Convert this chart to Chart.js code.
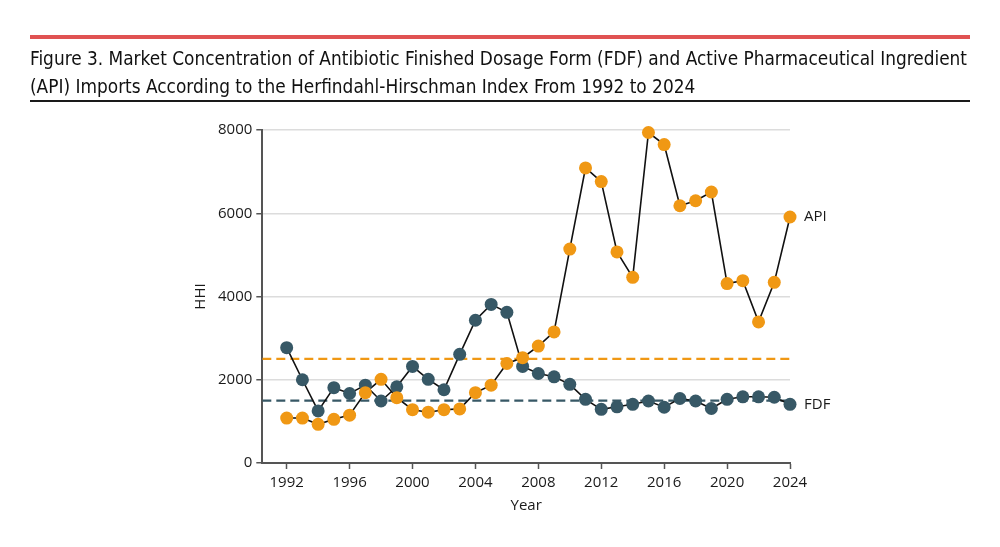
<!DOCTYPE html>
<html>
<head>
<meta charset="utf-8">
<script src="https://cdn.jsdelivr.net/npm/chart.js@4/dist/chart.umd.min.js"></script>
<style>
  body { margin: 0; background: #fff; }
  #wrap { position: relative; width: 1000px; height: 547px; overflow: hidden; }
  #chart { position: absolute; left: 0; top: 0; }
  .redbar { position: absolute; left: 30px; top: 35px; width: 940px; height: 4px; background: #e05252; }
  .rule { position: absolute; left: 30px; top: 100px; width: 940px; height: 2px; background: #1a1a1a; }
  .title { position: absolute; left: 30px; top: 44px; width: 960px; font-family: "Liberation Sans Narrow", "DejaVu Sans Condensed", sans-serif;
           font-size: 20px; line-height: 28px; color: #111; }
  .title div { white-space: nowrap; display: inline-block; }
</style>
</head>
<body>
<div id="wrap">
  <canvas id="chart" width="1000" height="547"></canvas>
  <div class="redbar"></div>
  <div class="title">
    <div id="t1">Figure 3. Market Concentration of Antibiotic Finished Dosage Form (FDF) and Active Pharmaceutical Ingredient</div><br>
    <div id="t2">(API) Imports According to the Herfindahl-Hirschman Index From 1992 to 2024</div>
  </div>
  <div class="rule"></div>
</div>
<script>
// data
let years = [1992,1993,1994,1995,1996,1997,1998,1999,2000,2001,2002,2003,2004,2005,2006,2007,
             2008,2009,2010,2011,2012,2013,2014,2015,2016,2017,2018,2019,2020,2021,2022,2023,2024];
let fdf_hhi = [2770,2000,1250,1810,1670,1870,1490,1830,2320,2010,1760,2610,3430,3810,3620,2320,
               2150,2070,1890,1530,1290,1350,1410,1490,1340,1550,1490,1310,1530,1590,1590,1580,1410];
let api_hhi = [1080,1080,930,1050,1150,1690,2010,1570,1280,1220,1280,1300,1690,1870,2390,2530,
               2810,3150,5140,7090,6760,5070,4460,7940,7650,6180,6300,6510,4310,4380,3390,4340,5910];
let x_ticks = [1992,1996,2000,2004,2008,2012,2016,2020,2024];
let y_ticks = [0,2000,4000,6000,8000];
let fdf_threshold = 1500;
let api_threshold = 2500;

// fit title lines to the width in the figure
let t1 = document.getElementById('t1');
let fs = 20 * 938 / t1.getBoundingClientRect().width;
document.querySelector('.title').style.fontSize = fs + 'px';

let orange = 'rgb(240,152,20)';
let slate = 'rgb(55,88,102)';
let x_min = 1990.45;

function pts(vals) {
    return years.map((y, i) => ({x: y, y: vals[i]}));
}
function hline(v) {
    return [{x: x_min, y: v}, {x: years[years.length - 1], y: v}];
}

// API / FDF labels next to the last point
let end_labels = {
    id: 'end_labels',
    afterDatasetsDraw(chart) {
        let ctx = chart.ctx;
        let xs = chart.scales.x, ys = chart.scales.y;
        let last = years.length - 1;
        ctx.save();
        ctx.font = '15px "Open Sans"';
        ctx.fillStyle = '#1a1a1a';
        ctx.textBaseline = 'middle';
        ctx.fillText('API', xs.getPixelForValue(years[last]) + 14, ys.getPixelForValue(api_hhi[last]));
        ctx.fillText('FDF', xs.getPixelForValue(years[last]) + 14, ys.getPixelForValue(fdf_hhi[last]));
        ctx.restore();
    }
};

let data = {
    datasets: [
        {label: 'API', data: pts(api_hhi), showLine: false, pointRadius: 6.5, pointHoverRadius: 6.5,
         backgroundColor: orange, borderWidth: 0, order: 1, clip: false},
        {label: 'FDF', data: pts(fdf_hhi), showLine: false, pointRadius: 6.5, pointHoverRadius: 6.5,
         backgroundColor: slate, borderWidth: 0, order: 2, clip: false},
        {label: 'API line', data: pts(api_hhi), showLine: true, pointRadius: 0, borderColor: '#111',
         borderWidth: 1.6, order: 3, clip: false},
        {label: 'FDF line', data: pts(fdf_hhi), showLine: true, pointRadius: 0, borderColor: '#111',
         borderWidth: 1.6, order: 4, clip: false},
        {label: 'API threshold', data: hline(api_threshold), showLine: true, pointRadius: 0,
         borderColor: orange, borderWidth: 2.2, borderDash: [9, 5], order: 5},
        {label: 'FDF threshold', data: hline(fdf_threshold), showLine: true, pointRadius: 0,
         borderColor: slate, borderWidth: 2.2, borderDash: [9, 5], order: 6}
    ]
};

let tick_font = {family: '"Open Sans"', size: 15};

let config = {
    type: 'scatter',
    data: data,
    options: {
        responsive: false,
        animation: false,
        layout: {padding: {left: 188, right: 210, top: 130, bottom: 28}},
        plugins: {legend: {display: false}, tooltip: {enabled: false}},
        scales: {
            x: {
                type: 'linear', min: x_min, max: 2024,
                afterBuildTicks: s => { s.ticks = x_ticks.map(v => ({value: v})); },
                ticks: {font: tick_font, color: '#1a1a1a', padding: 5, maxRotation: 0,
                        callback: v => String(v)},
                grid: {drawOnChartArea: false, tickLength: 6, tickColor: '#555', tickWidth: 1.5},
                border: {color: '#555', width: 2},
                title: {display: true, text: 'Year', font: tick_font, color: '#1a1a1a', padding: {top: 0, bottom: 4}}
            },
            y: {
                min: 0, max: 8000,
                afterBuildTicks: s => { s.ticks = y_ticks.map(v => ({value: v})); },
                ticks: {font: tick_font, color: '#1a1a1a', padding: 4, callback: v => String(v)},
                grid: {color: '#dcdcdc', lineWidth: 1.5, tickLength: 6, tickColor: '#555', tickWidth: 1.5},
                border: {color: '#555', width: 2},
                title: {display: true, text: 'HHI', font: tick_font, color: '#1a1a1a', padding: {top: 4, bottom: 4}}
            }
        }
    },
    plugins: [end_labels]
};

let hhi_chart = new Chart(document.getElementById('chart'), config);
</script>
</body>
</html>
